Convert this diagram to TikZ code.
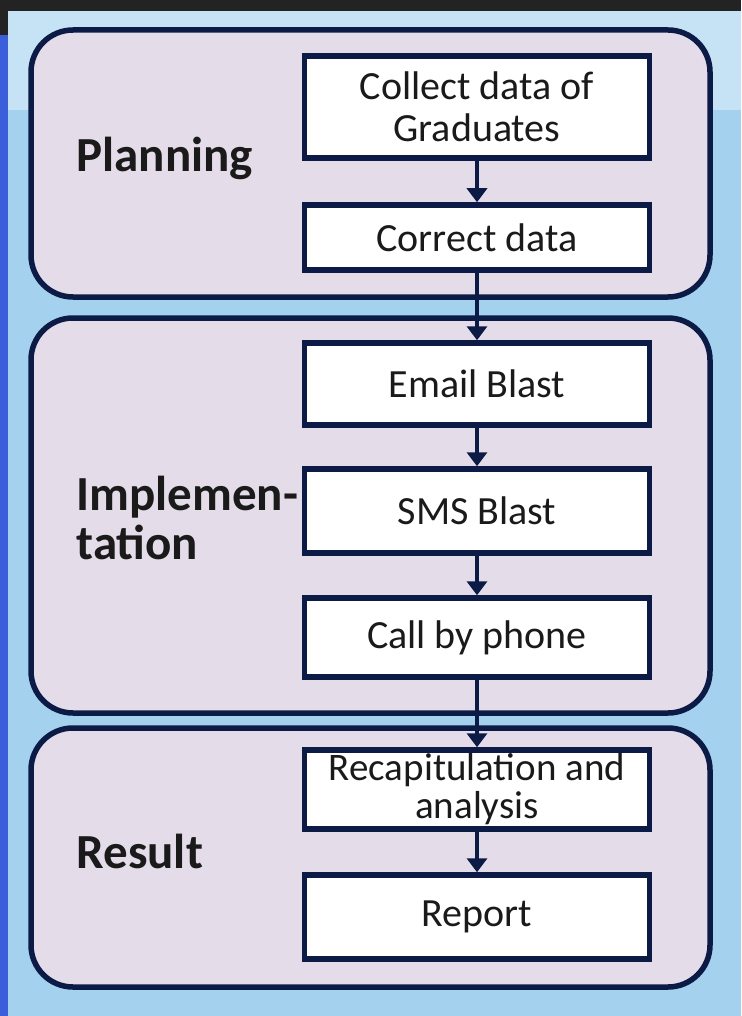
\documentclass[tikz,border=0pt]{standalone}
\usepackage{fontspec}
\setmainfont{Carlito}
\usepackage{tikz}
\usetikzlibrary{arrows.meta}
\definecolor{navy}{HTML}{0B1B46}
\definecolor{lilac}{HTML}{E5DCEA}
\definecolor{skyA}{HTML}{A3D1EE}
\definecolor{skyB}{HTML}{C6E3F5}
\definecolor{stripe}{HTML}{3B5EDB}
\definecolor{topbar}{HTML}{232323}
\definecolor{ink}{HTML}{1A1A1A}

\begin{document}
\begin{tikzpicture}[x=1pt, y=-1pt,
  panel/.style={draw=navy, line width=5.5pt, fill=lilac, rounded corners=42pt},
  stepbox/.style={draw=navy, line width=5.5pt, fill=white, minimum width=345pt,
    inner sep=0pt, align=center, text=ink, font=\fontsize{40}{42}\selectfont},
  phase/.style={anchor=west, align=left, text=ink, font=\fontsize{49}{49}\selectfont\bfseries},
  flow/.style={draw=navy, line width=3.5pt, -{Triangle[width=20pt,length=14pt]}}]
  \useasboundingbox (0,0) rectangle (741,1016);

  % background
  \fill[skyA] (0,0) rectangle (741,1016);
  \fill[skyB] (0,11) rectangle (741,110);
  \fill[topbar] (0,0) rectangle (741,11);
  \fill[topbar] (0,0) rectangle (8,35);
  \fill[stripe] (0,35) rectangle (8,1016);

  % phases
  \draw[panel] (31,30) rectangle (710,297);
  \draw[panel] (31,318) rectangle (710,713);
  \draw[panel] (31,728) rectangle (710,987);

  \node[phase] (plan) at (73,158) {Planning};
  \node[phase] (impl) at (73,518) {Implemen-\\tation};
  \node[phase] (res) at (73,851) {Result};

  % steps
  \node[stepbox, minimum height=102pt] (collect) at (477,107) {Collect data of\\Graduates};
  \node[stepbox, minimum height=65pt] (correct) at (477,237.5) {Correct data};
  \node[stepbox, minimum height=82pt] (email) at (477,384) {Email Blast};
  \node[stepbox, minimum height=84pt] (sms) at (477,511) {SMS Blast};
  \node[stepbox, minimum height=79pt] (call) at (477,637.5) {Call by phone};
  \node[stepbox, minimum height=79pt, font=\fontsize{39}{38}\selectfont] (recap) at (477,789.5) {Recapitulation and\\analysis};
  \node[stepbox, minimum height=84pt] (report) at (477,917) {Report};

  \draw[flow] (collect) -- (correct);
  \draw[flow] (correct) -- (email);
  \draw[flow] (email) -- (sms);
  \draw[flow] (sms) -- (call);
  \draw[flow] (call) -- (recap);
  \draw[flow] (recap) -- (report);

\end{tikzpicture}
\end{document}
